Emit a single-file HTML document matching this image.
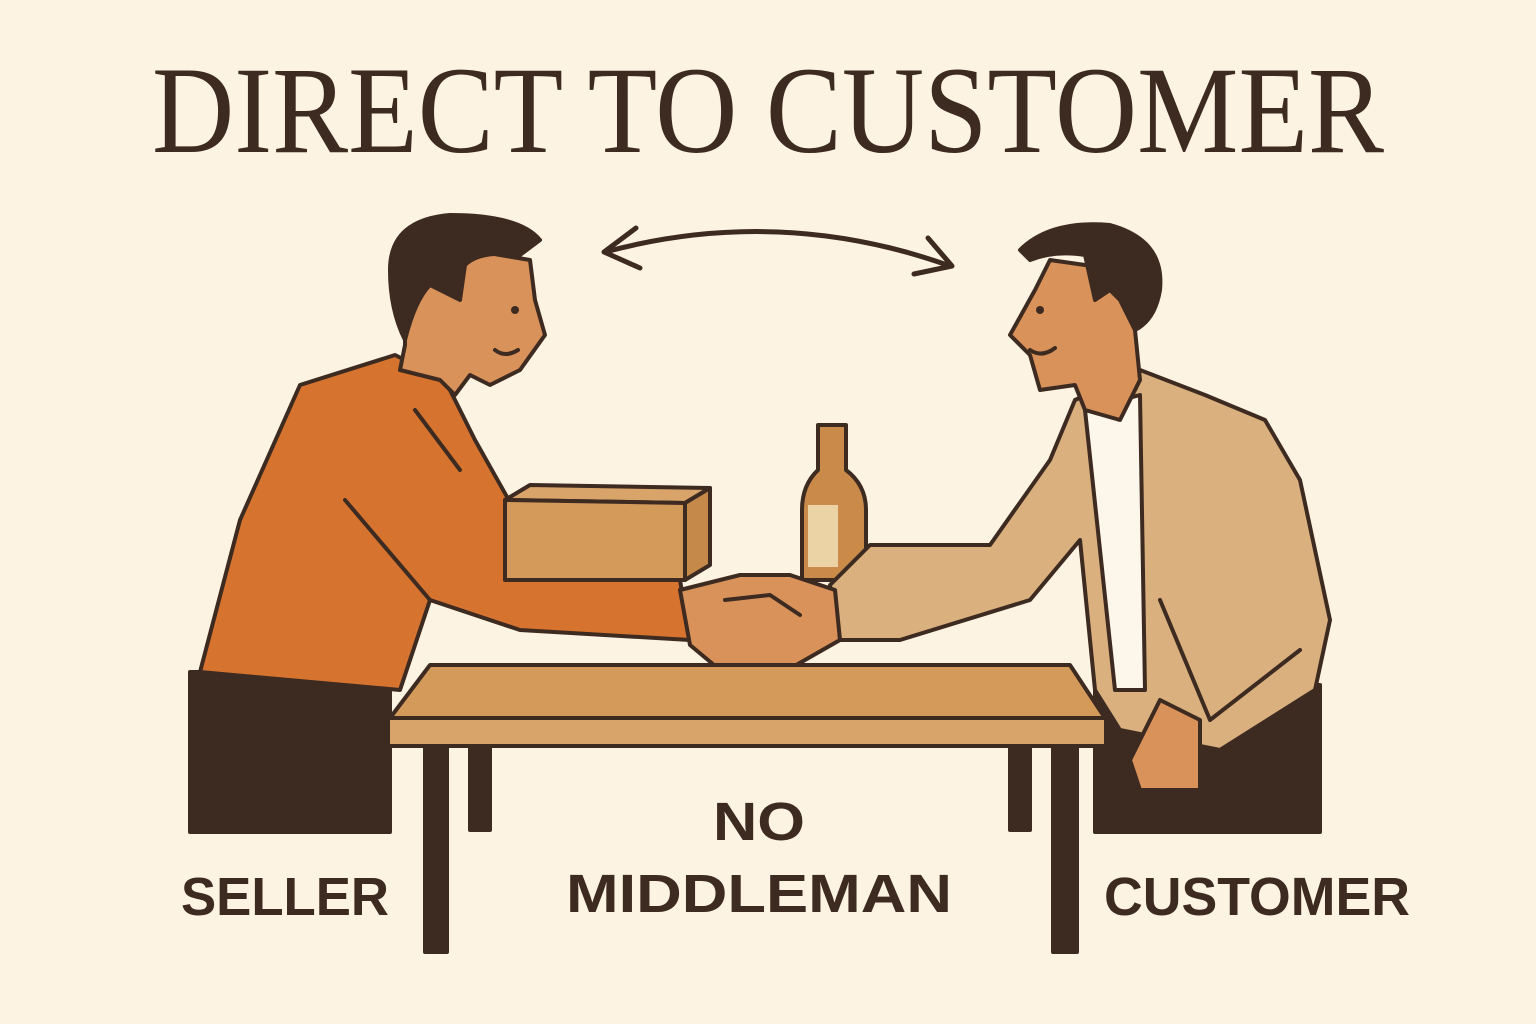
<!DOCTYPE html>
<html><head><meta charset="utf-8"><style>
html,body{margin:0;padding:0;background:#fdf3e3;}
svg{display:block}
</style></head><body>
<svg width="1536" height="1024" viewBox="0 0 1536 1024" xmlns="http://www.w3.org/2000/svg">
<rect width="1536" height="1024" fill="#fdf3e3"/>
<text x="768" y="152" text-anchor="middle" font-family="Liberation Serif, serif" font-size="124" fill="#3d2a20" textLength="1232" lengthAdjust="spacingAndGlyphs">DIRECT TO CUSTOMER</text>

<g stroke="#3d2a20" stroke-width="5" fill="none" stroke-linecap="round" stroke-linejoin="round">
<path d="M605 252 Q780 205 950 266"/>
<path d="M636 228 L604 252 L640 268"/>
<path d="M928 238 L952 266 L914 274"/>
</g>

<g stroke="#3d2a20" stroke-width="4" stroke-linejoin="round" stroke-linecap="round">
<rect x="190" y="672" width="200" height="160" fill="#3d2a20"/>
<path d="M300 385 L395 355 L445 380 L475 440 L520 520 L680 580 L690 640 L520 630 L430 600 L400 690 L200 672 L240 520 Z" fill="#d6742f"/>
<path d="M345 500 L430 600" fill="none"/>
<path d="M415 410 L460 470" fill="none"/>
<path d="M405 300 L405 345 L400 370 L440 380 L455 395 L470 375 L490 385 L520 370 L545 335 L535 300 L530 260 L470 250 Z" fill="#d9925a"/>
<path d="M390 270 Q390 220 450 215 Q520 215 540 240 L520 255 Q480 250 465 265 L460 300 L430 285 Q415 300 405 340 Q390 310 390 270 Z" fill="#3d2a20"/>
<circle cx="515" cy="310" r="4" fill="#3d2a20" stroke="none"/>
<path d="M495 350 Q505 358 518 350" fill="none"/>
<path d="M505 500 L530 485 L710 488 L685 503 Z" fill="#d9a46a"/>
<path d="M505 500 L685 503 L685 580 L505 580 Z" fill="#d39a5a"/>
<path d="M685 503 L710 488 L710 565 L685 580 Z" fill="#c58a4a"/>
<path d="M818 425 L846 425 L846 470 Q866 485 866 510 L866 580 L802 580 L802 510 Q802 485 818 470 Z" fill="#c98a4a"/>
<rect x="808" y="505" width="30" height="62" fill="#ecd3a6" stroke="none"/>
<rect x="1095" y="685" width="225" height="147" fill="#3d2a20"/>
<path d="M1075 400 L1140 370 L1205 395 L1265 420 L1300 480 L1330 620 L1315 690 L1220 750 L1120 730 L1095 690 L1080 540 L1030 600 L900 640 L835 640 L830 585 L870 545 L990 545 L1050 460 Z" fill="#d9b07e"/>
<path d="M1085 410 L1115 690 L1145 690 L1140 395 Z" fill="#fdf6ea"/>
<path d="M1160 600 L1210 720 L1300 650" fill="none"/>
<path d="M1160 700 L1200 720 L1200 790 L1140 790 L1130 760 Z" fill="#d9925a"/>
<path d="M1035 290 L1010 335 L1030 355 L1040 390 L1075 385 L1085 410 L1120 420 L1140 380 L1135 330 L1120 270 L1050 260 Z" fill="#d9925a"/>
<path d="M1020 250 Q1050 220 1110 225 Q1165 240 1160 290 Q1155 320 1135 330 L1120 300 L1110 290 L1095 300 L1085 255 Q1055 250 1030 260 Z" fill="#3d2a20"/>
<circle cx="1040" cy="310" r="4" fill="#3d2a20" stroke="none"/>
<path d="M1030 350 Q1042 358 1055 348" fill="none"/>
<path d="M680 590 L740 575 L790 575 L835 590 L840 640 L805 660 L770 680 L720 670 L690 645 Z" fill="#d9925a"/>
<path d="M725 600 L770 595 L800 615" fill="none"/>
<path d="M430 665 L1070 665 L1105 718 L390 718 Z" fill="#d39a5a"/>
<rect x="388" y="718" width="718" height="28" fill="#d9a46a"/>
<rect x="425" y="746" width="22" height="206" fill="#3d2a20"/>
<rect x="470" y="746" width="20" height="84" fill="#3d2a20"/>
<rect x="1010" y="746" width="20" height="84" fill="#3d2a20"/>
<rect x="1053" y="746" width="24" height="206" fill="#3d2a20"/>
</g>

<g font-family="Liberation Sans, sans-serif" font-size="54" font-weight="bold" fill="#3d2a20" text-anchor="middle">
<text x="285" y="915" textLength="208" lengthAdjust="spacingAndGlyphs">SELLER</text>
<text x="759" y="840" textLength="92" lengthAdjust="spacingAndGlyphs">NO</text>
<text x="759" y="912" textLength="386" lengthAdjust="spacingAndGlyphs">MIDDLEMAN</text>
<text x="1257" y="915" textLength="306" lengthAdjust="spacingAndGlyphs">CUSTOMER</text>
</g>
</svg>
</body></html>
